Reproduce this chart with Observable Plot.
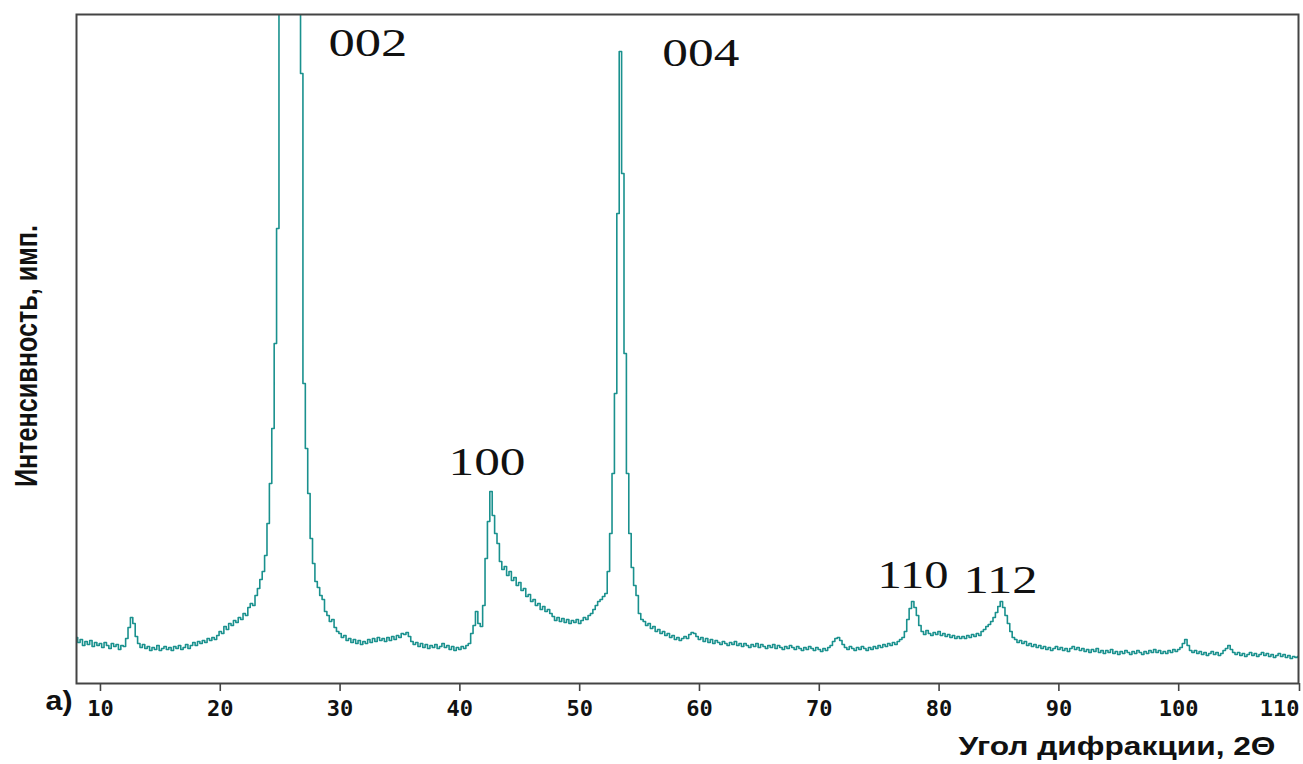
<!DOCTYPE html>
<html>
<head>
<meta charset="utf-8">
<script src="https://cdn.jsdelivr.net/npm/d3@7"></script>
<script src="https://cdn.jsdelivr.net/npm/@observablehq/plot@0.6"></script>
<style>
  html, body { margin: 0; padding: 0; background: #fff; }
  #chart { width: 1303px; height: 764px; }
</style>
</head>
<body>
<div id="chart"></div>
<script>
// Sampling grid of the diffractogram (2θ, degrees)
const angleStart = 8.0;
const angleStep = 0.2;

// Intensity (arbitrary units), one value per 0.2° from 8.0° to 110.0°
const intensity = [
  46,41,44,38,42,39,43,37,41,38,
  40,36,41,38,35,40,37,39,34,38,
  37,45,56,66,60,47,40,36,39,35,
  37,33,36,34,38,33,35,37,34,36,
  33,37,35,38,34,36,39,35,38,41,
  38,42,40,43,41,45,43,46,44,48,
  52,50,57,54,60,58,63,61,66,64,
  70,68,76,80,78,88,95,104,112,128,
  160,200,255,340,455,760,1050,1300,1480,1550,
  1500,1350,1120,860,610,300,235,190,145,120,
  102,96,88,84,72,68,62,64,56,52,
  50,46,48,43,45,41,44,40,43,39,
  42,40,44,41,45,42,46,43,45,42,
  46,43,47,44,48,46,50,49,51,47,
  42,39,41,37,40,36,39,35,38,36,
  39,35,37,40,36,38,34,37,33,36,
  34,37,35,38,40,50,58,72,60,57,
  78,125,162,192,168,150,140,122,114,117,
  108,112,103,106,98,101,93,95,87,89,
  82,84,78,80,74,77,72,74,70,67,
  63,66,62,65,61,64,60,63,61,64,
  60,63,66,64,68,70,74,78,82,84,
  87,90,112,150,210,290,470,632,510,330,
  210,150,116,98,88,70,64,62,58,60,
  55,57,52,54,50,52,48,50,46,48,
  44,46,43,45,47,45,49,51,50,47,
  44,46,42,45,41,44,40,43,41,39,
  42,40,38,41,39,42,38,40,37,40,
  38,36,39,37,40,36,39,37,35,38,
  36,39,35,38,36,34,37,35,38,36,
  34,37,35,33,36,34,37,35,33,36,
  34,32,35,33,36,38,42,45,46,43,
  39,36,34,37,35,33,36,34,37,35,
  33,36,34,37,35,38,36,39,37,40,
  38,41,39,42,44,46,52,64,75,82,
  76,68,58,52,49,53,50,48,51,49,
  52,48,50,47,49,46,48,45,47,45,
  47,45,48,46,49,47,50,48,52,54,
  57,59,62,66,71,77,82,76,68,60,
  52,46,44,41,43,40,42,38,40,37,
  39,36,38,35,37,34,36,33,35,37,
  34,36,33,35,32,35,37,34,36,33,
  35,32,34,31,34,32,35,31,33,30,
  33,31,34,30,32,29,32,30,33,31,
  29,32,30,33,31,29,32,30,33,31,
  34,31,33,30,32,30,33,31,34,32,
  34,36,40,44,38,33,31,33,30,32,
  29,31,28,30,32,29,31,28,30,33,
  35,38,34,31,29,31,28,30,27,29,
  31,28,30,27,29,31,28,30,27,29,
  26,28,30,27,29,26,28,25,27,26,
  27
];

// Reflection labels (Miller indices) and where they sit (2θ, intensity)
const peakLabels = ["002", "004", "100", "110", "112"];
const peakLabelAngle = [29.03, 56.9, 39.05, 74.86, 82.04];
const peakLabelIntensity = [628, 618, 209, 96, 91];

// Axis ticks
const xTicks = [10, 20, 30, 40, 50, 60, 70, 80, 90, 100];
const xLastTick = [110];
const xDomain = [8, 110];
const yDomain = [0, 669];

const xTitle = "Угол дифракции, 2Θ";
const yTitle = "Интенсивность, имп.";
const panelTag = "а)";

const pattern = intensity.map((v, i) => ({
  angle: +(angleStart + i * angleStep).toFixed(1),
  value: v
}));
const labels = peakLabels.map((t, i) => ({
  text: t, angle: peakLabelAngle[i], value: peakLabelIntensity[i]
}));

const axisStyle = {
  tickSize: 8, tickPadding: 9,
  stroke: "#444", strokeWidth: 1.6,
  fill: "#111",
  fontSize: 22, fontFamily: "DejaVu Sans Mono", fontWeight: "bold",
  label: null
};

const chart = Plot.plot({
  width: 1303,
  height: 764,
  marginLeft: 76,
  marginRight: 5,
  marginTop: 14,
  marginBottom: 81,
  style: { background: "#fff", overflow: "visible" },
  x: { domain: xDomain, label: null },
  y: { domain: yDomain, axis: null },
  marks: [
    Plot.line(pattern, {
      x: "angle", y: "value", curve: "step",
      stroke: "#1a918e", strokeWidth: 1.6, clip: true
    }),
    Plot.frame({ stroke: "#444", strokeWidth: 2 }),
    Plot.axisX({ ...axisStyle, ticks: xTicks }),
    Plot.axisX({ ...axisStyle, ticks: xLastTick, textAnchor: "end", dx: 1 }),
    Plot.text(labels, {
      x: "angle", y: "value", text: "text",
      textAnchor: "start", lineAnchor: "bottom",
      fontFamily: "Liberation Serif", fontSize: 40, fill: "#111"
    }),
    Plot.text([xTitle], {
      frameAnchor: "bottom-right", textAnchor: "end", lineAnchor: "bottom",
      dx: -23, dy: 71,
      fontFamily: "Liberation Sans", fontWeight: "bold", fontSize: 25, fill: "#111"
    }),
    Plot.text([yTitle], {
      frameAnchor: "left", rotate: -90, textAnchor: "middle", lineAnchor: "middle",
      dx: -50, dy: 7,
      fontFamily: "Arimo, Liberation Sans", fontWeight: "bold", fontSize: 25, fill: "#111"
    }),
    Plot.text([panelTag], {
      frameAnchor: "bottom-left", textAnchor: "start", lineAnchor: "bottom",
      dx: -31, dy: 26,
      fontFamily: "Liberation Sans", fontWeight: "bold", fontSize: 27, fill: "#111"
    })
  ]
});

// The reference's lettering is horizontally stretched; reproduce with textLength
const labelStretch = { "002": 79, "004": 77, "100": 77, "110": 71, "112": 74 };
d3.select(chart).selectAll('g[font-family="Liberation Serif"] text').each(function () {
  const t = this.textContent;
  if (labelStretch[t]) {
    this.setAttribute("textLength", labelStretch[t]);
    this.setAttribute("lengthAdjust", "spacingAndGlyphs");
  }
});
d3.select(chart).selectAll('g[font-family="Liberation Sans"] text').each(function () {
  const t = this.textContent;
  if (t === xTitle) {
    this.setAttribute("textLength", 317);
    this.setAttribute("lengthAdjust", "spacingAndGlyphs");
  } else if (t === panelTag) {
    this.setAttribute("textLength", 27);
    this.setAttribute("lengthAdjust", "spacingAndGlyphs");
  }
});
d3.select(chart).selectAll('g[font-family="Arimo, Liberation Sans"] text').each(function () {
  const tr = this.getAttribute("transform") || "";
  this.setAttribute("transform", tr + " scale(1,1.25)");
  this.setAttribute("textLength", 262);
  this.setAttribute("lengthAdjust", "spacingAndGlyphs");
});

document.getElementById("chart").append(chart);
</script>
</body>
</html>
